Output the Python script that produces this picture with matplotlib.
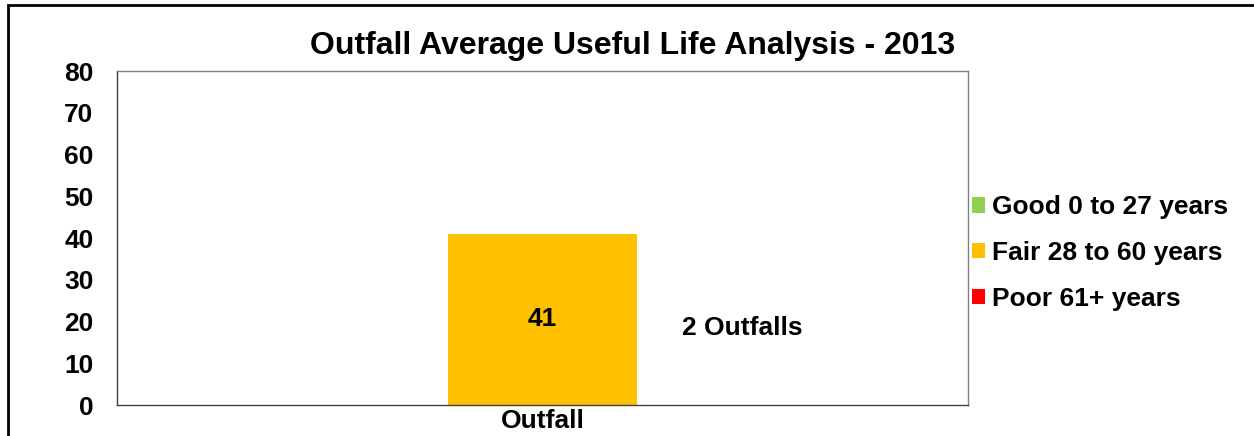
import matplotlib.pyplot as plt
from matplotlib.patches import Patch, Rectangle

plt.rcParams['font.family'] = ['Liberation Sans', 'DejaVu Sans']
plt.rcParams['font.weight'] = 'bold'

categories = ['Outfall']
values = [41]
bar_colors = ['#FFC000']
legend_labels = ['Good 0 to 27 years', 'Fair 28 to 60 years', 'Poor 61+ years']
legend_colors = ['#92D050', '#FFC000', '#FF0000']
yticks = [0, 10, 20, 30, 40, 50, 60, 70, 80]
count_note = '2 Outfalls'

fig = plt.figure(figsize=(12.54, 4.36), dpi=100)
ax = fig.add_axes([117/1254, 1 - 405/436, (968-117)/1254, (405-71)/436])

bars = ax.bar(categories, values, width=0.222, color=bar_colors)
for b, v in zip(bars, values):
    ax.text(b.get_x() + b.get_width()/2, v/2, str(v), ha='center', va='center',
            fontsize=19, fontweight='bold')

ax.set_xlim(-0.5, 0.5)
ax.set_ylim(0, 80)
ax.set_yticks(yticks)
ax.tick_params(axis='both', length=0, labelsize=19)
ax.tick_params(axis='y', pad=17)
ax.tick_params(axis='x', pad=3)
for s in ax.spines.values():
    s.set_color('#808080')
    s.set_linewidth(1)
ax.spines['bottom'].set_color('#404040')
ax.spines['left'].set_color('#404040')

ax.text(0.235, 18.5, count_note, ha='center', va='center', fontsize=19, fontweight='bold')

fig.text(633/1254, 1 - 46/436, 'Outfall Average Useful Life Analysis - 2013',
         ha='center', va='center', fontsize=23, fontweight='bold')

handles = [Patch(facecolor=c, edgecolor='none') for c in legend_colors]
fig.legend(handles, legend_labels, loc='center left', bbox_to_anchor=(972/1254, 1 - 253/436),
           frameon=False, fontsize=19, handlelength=0.5, handleheight=0.5,
           handletextpad=0.27, labelspacing=0.82, borderpad=0, borderaxespad=0)

fig.patches.append(Rectangle((8/1254, -0.1), 1.2, 1 - 5/436 + 0.1, transform=fig.transFigure,
                             fill=False, edgecolor='black', linewidth=2))

fig.savefig('out.png', dpi=100)
